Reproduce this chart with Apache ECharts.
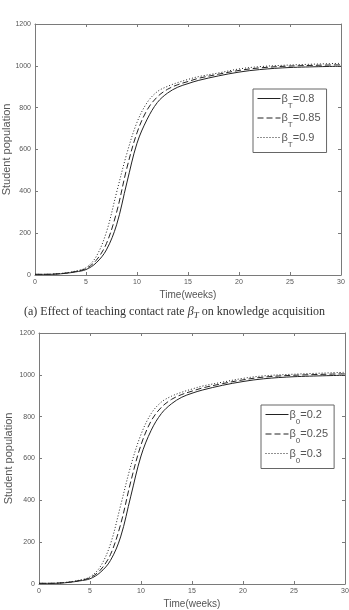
<!DOCTYPE html>
<html>
<head>
<meta charset="utf-8">
<script src="https://cdn.jsdelivr.net/npm/echarts@6/dist/echarts.min.js"></script>
<style>
  html, body { margin: 0; padding: 0; background: #fff; }
  #chart { width: 349px; height: 610px; }
</style>
</head>
<body>
<div id="chart"></div>
<script>
// time points (weeks)
var weeks = [0, 1, 2, 3, 4, 5, 6, 7, 8, 9, 10, 11, 12, 13, 14, 15, 16, 18, 20, 22, 25, 30];

// (a) teaching contact rate beta_T
var betaT08 = [3, 3, 4, 8, 15, 26, 58, 120, 240, 440, 630, 745, 825, 870, 898, 915, 930, 952, 970, 982, 992, 998];
var betaT085 = [3, 3, 5, 9, 17, 31, 70, 150, 300, 510, 680, 790, 852, 888, 910, 925, 940, 960, 978, 990, 999, 1005];
var betaT09 = [3, 3, 5, 10, 19, 35, 88, 205, 395, 580, 730, 825, 877, 902, 920, 935, 948, 966, 985, 996, 1004, 1012];

// (b) beta_0
var beta002 = [3, 3, 4, 8, 15, 25, 55, 112, 225, 420, 612, 735, 815, 862, 893, 912, 927, 950, 968, 981, 991, 998];
var beta0025 = [3, 3, 5, 9, 17, 30, 66, 140, 285, 490, 665, 780, 845, 883, 906, 922, 937, 958, 976, 989, 998, 1005];
var beta003 = [3, 3, 5, 10, 19, 34, 82, 190, 375, 565, 715, 815, 870, 898, 917, 932, 946, 965, 983, 995, 1003, 1012];

var xTicks = [0, 5, 10, 15, 20, 25, 30];
var yTicks = [0, 200, 400, 600, 800, 1000, 1200];

var legendA = ['0.8', '0.85', '0.9'];
var legendB = ['0.2', '0.25', '0.3'];

function pairs(vals) {
    var out = [];
    for (var i = 0; i < weeks.length; i++) {
        out.push([weeks[i], vals[i]]);
    }
    return out;
}

var axisGray = '#7a7a7a';
var sans = 'Liberation Sans, Arial, sans-serif';

function xAxis(grid, pos, labels) {
    return {
        type: 'value', gridIndex: grid, position: pos,
        min: xTicks[0], max: xTicks[xTicks.length - 1], interval: 5,
        name: labels ? 'Time(weeks)' : '', nameLocation: 'middle', nameGap: 15,
        nameMoveOverlap: false,
        nameTextStyle: { fontSize: 10, color: '#555', fontFamily: sans },
        axisLine: { show: true, onZero: false, lineStyle: { color: axisGray, width: 1 } },
        axisTick: { show: true, inside: true, length: 3, lineStyle: { color: axisGray } },
        axisLabel: { show: labels, margin: 4, fontSize: 7, color: '#555', fontFamily: sans,
            formatter: function (v) { return String(v); } },
        splitLine: { show: false }
    };
}

function yAxis(grid, pos, labels, gap) {
    return {
        type: 'value', gridIndex: grid, position: pos,
        min: yTicks[0], max: yTicks[yTicks.length - 1], interval: 200,
        name: labels ? 'Student population' : '', nameLocation: 'middle', nameGap: gap,
        nameMoveOverlap: false,
        nameTextStyle: { fontSize: 11, color: '#555', fontFamily: sans },
        axisLine: { show: true, onZero: false, lineStyle: { color: axisGray, width: 1 } },
        axisTick: { show: true, inside: true, length: 3, lineStyle: { color: axisGray } },
        axisLabel: { show: labels, margin: 4, fontSize: 7, color: '#555', fontFamily: sans,
            formatter: function (v) { return String(v); } },
        splitLine: { show: false }
    };
}

var dashes = ['solid', [6, 3], [1, 2]];

function line(name, vals, k, xi, yi) {
    return {
        name: name, type: 'line', xAxisIndex: xi, yAxisIndex: yi,
        data: pairs(vals), symbol: 'none', smooth: 0.35,
        itemStyle: { color: '#222' },
        lineStyle: { color: '#222', width: 1, type: dashes[k] }
    };
}

var rich = {
    b: { fontSize: 11, color: '#555', fontFamily: sans, lineHeight: 16, verticalAlign: 'middle' },
    s: { fontSize: 8, color: '#555', fontFamily: sans, lineHeight: 16, verticalAlign: 'bottom', padding: [0, 0, -3, 0] },
    v: { fontSize: 11, color: '#555', fontFamily: sans, lineHeight: 16, verticalAlign: 'middle' }
};

function legend(names, sub, left, top, w, h) {
    return {
        orient: 'vertical', left: left, top: top, width: w, height: h,
        data: names, itemWidth: 23, itemHeight: 8, itemGap: 3,
        padding: [4, 6, 4, 4], borderColor: '#666', borderWidth: 1,
        backgroundColor: '#fff', selectedMode: false,
        itemStyle: { opacity: 0, borderWidth: 0 },
        lineStyle: { width: 1, color: '#222' },
        formatter: function (n) {
            return '{b|β}{s|' + sub + '}{v|=' + n.split('_')[1] + '}';
        },
        textStyle: { rich: rich, padding: [0, 0, 0, -4] }
    };
}

var namesA = legendA.map(function (v) { return 'T_' + v; });
var namesB = legendB.map(function (v) { return '0_' + v; });

var chart = echarts.init(document.getElementById('chart'));
chart.setOption({
    animation: false,
    backgroundColor: '#fff',
    grid: [
        { left: 35, right: 8, top: 24, height: 251, containLabel: false, outerBoundsMode: 'none' },
        { left: 39, right: 4, top: 333, height: 251, containLabel: false, outerBoundsMode: 'none' }
    ],
    xAxis: [xAxis(0, 'bottom', true), xAxis(0, 'top', false), xAxis(1, 'bottom', true), xAxis(1, 'top', false)],
    yAxis: [yAxis(0, 'left', true, 23), yAxis(0, 'right', false, 0), yAxis(1, 'left', true, 25), yAxis(1, 'right', false, 0)],
    legend: [
        legend(namesA, 'T', 253, 89, 72, 57),
        legend(namesB, '0', 261, 405, 82, 70)
    ],
    series: [
        line(namesA[0], betaT08, 0, 0, 0),
        line(namesA[1], betaT085, 1, 0, 0),
        line(namesA[2], betaT09, 2, 0, 0),
        line(namesB[0], beta002, 0, 2, 2),
        line(namesB[1], beta0025, 1, 2, 2),
        line(namesB[2], beta003, 2, 2, 2)
    ],
    graphic: [{
        type: 'text', left: 'center', top: 306,
        style: {
            text: '{n|(a) Effect of teaching contact rate }{i|β}{t|T}{n| on knowledge acquisition}',
            rich: {
                n: { fontSize: 12, fontFamily: 'Liberation Serif, Times New Roman, serif', fill: '#333', lineHeight: 16, verticalAlign: 'middle' },
                i: { fontSize: 12, fontStyle: 'italic', fontFamily: 'Liberation Serif, Times New Roman, serif', fill: '#333', lineHeight: 16, verticalAlign: 'middle' },
                t: { fontSize: 9, fontStyle: 'italic', fontFamily: 'Liberation Serif, Times New Roman, serif', fill: '#333', lineHeight: 16, verticalAlign: 'bottom' }
            }
        }
    }]
});
</script>
</body>
</html>
